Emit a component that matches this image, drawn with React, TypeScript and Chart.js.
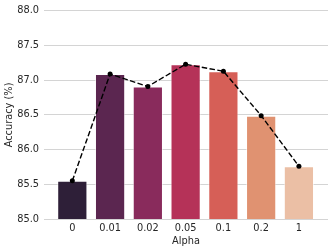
import React, { useEffect, useRef } from "react";
import { Chart, registerables } from "chart.js";

Chart.register(...registerables);

const alphas = ["0", "0.01", "0.02", "0.05", "0.1", "0.2", "1"];
const accuracy = [85.55, 87.09, 86.91, 87.23, 87.13, 86.49, 85.76];
const barColors = ["#2e1f38", "#5b2650", "#892b5c", "#b53258", "#d65f57", "#e09271", "#ebbfa5"];
const yTicks = [85.0, 85.5, 86.0, 86.5, 87.0, 87.5, 88.0];

const FONT = "'DejaVu Sans', sans-serif";
const TEXT = "#262626";

export default function App() {
  const ref = useRef<HTMLCanvasElement | null>(null);

  useEffect(() => {
    document.body.style.margin = "0";
    const canvas = ref.current;
    if (!canvas) return;
    const pts = accuracy.map((v, i) => ({ x: i, y: v }));
    const chart = new Chart(canvas, {
      type: "bar",
      data: {
        datasets: [
          {
            type: "line",
            data: pts,
            borderColor: "#000000",
            borderWidth: 1.4,
            borderDash: [5.5, 2.4],
            pointRadius: 2.5,
            pointBackgroundColor: "#000000",
            pointBorderColor: "#000000",
            pointBorderWidth: 0,
            fill: false,
            tension: 0,
            order: 0,
          } as any,
          {
            type: "bar",
            data: pts,
            backgroundColor: barColors,
            borderColor: "rgba(255,255,255,0.55)",
            borderWidth: 1,
            barPercentage: 0.8,
            categoryPercentage: 1,
            order: 1,
          } as any,
        ],
      },
      options: {
        responsive: false,
        animation: false,
        layout: { padding: { top: 9, right: 4, left: 0, bottom: 0 } },
        plugins: { legend: { display: false }, tooltip: { enabled: false } },
        scales: {
          x: {
            type: "linear",
            offset: false,
            min: -0.75,
            max: 6.77,
            grid: { display: false, drawTicks: false },
            border: { display: false },
            afterBuildTicks: (s: any) => {
              s.ticks = alphas.map((_, i) => ({ value: i }));
            },
            afterFit: (s: any) => {
              s.height = 33;
            },
            ticks: {
              padding: 4,
              color: TEXT,
              font: { family: FONT, size: 9.8 },
              maxRotation: 0,
              autoSkip: false,
              callback: (v: any) => alphas[Math.round(Number(v))] ?? "",
            },
            title: {
              display: true,
              text: "Alpha",
              color: TEXT,
              font: { family: FONT, size: 9.8 },
              padding: { top: 0, bottom: 5 },
            },
          },
          y: {
            min: 85,
            max: 88,
            afterBuildTicks: (s: any) => {
              s.ticks = yTicks.map((v) => ({ value: v }));
            },
            afterFit: (s: any) => {
              s.width = 44;
            },
            grid: { color: "#d4d4d4", lineWidth: 1, drawTicks: false },
            border: { display: false },
            ticks: {
              padding: 5,
              color: TEXT,
              font: { family: FONT, size: 9.8 },
              callback: (v: any) => Number(v).toFixed(1),
            },
            title: {
              display: true,
              text: "Accuracy (%)",
              color: TEXT,
              font: { family: FONT, size: 9.8 },
              padding: { top: 4, bottom: 0 },
            },
          },
        },
      },
    });
    return () => chart.destroy();
  }, []);

  return (
    <div style={{ position: "absolute", left: 0, top: 0, width: 332, height: 252 }}>
      <canvas ref={ref} width={332} height={252} style={{ display: "block", width: 332, height: 252 }} />
    </div>
  );
}
